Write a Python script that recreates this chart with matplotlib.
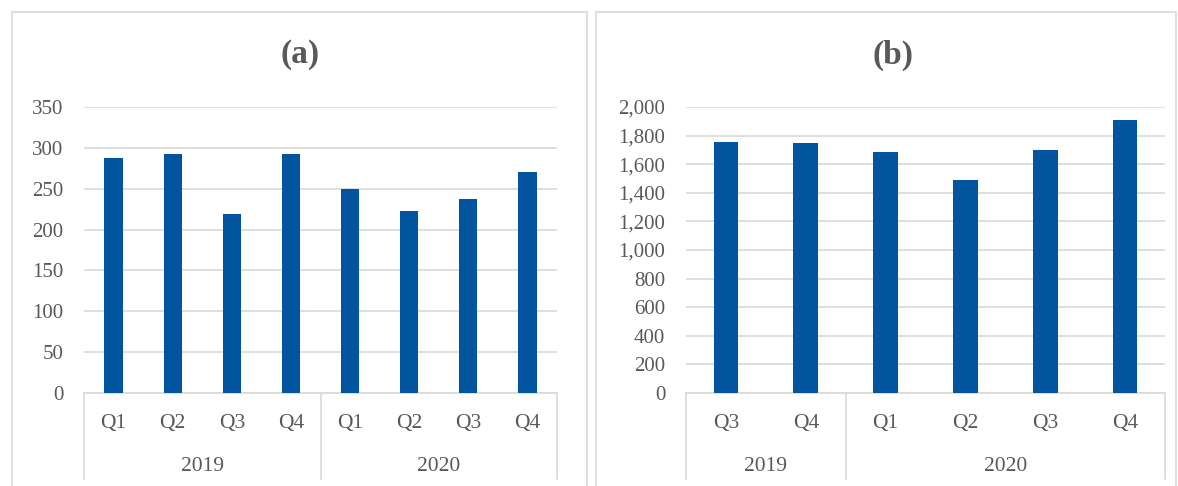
import numpy as np
import matplotlib
matplotlib.use("Agg")
import matplotlib.pyplot as plt
from matplotlib.patches import Rectangle
from matplotlib.ticker import MultipleLocator, StrMethodFormatter

plt.rcParams["font.family"] = ["Liberation Serif", "DejaVu Serif"]

# data
quarters_a = ["Q1", "Q2", "Q3", "Q4", "Q1", "Q2", "Q3", "Q4"]
years_a = ["2019", "2020"]
year_spans_a = [4, 4]
values_a = [288, 293, 219, 292, 250, 223, 238, 270]

quarters_b = ["Q3", "Q4", "Q1", "Q2", "Q3", "Q4"]
years_b = ["2019", "2020"]
year_spans_b = [2, 4]
values_b = [1757, 1750, 1685, 1491, 1701, 1911]

BAR = "#00559E"
GRID = "#D9D9D9"
TXT = "#595959"

W, H = 1178, 486
fig = plt.figure(figsize=(W / 100, H / 100), dpi=100)


def px_box(x0, x1, ytop, ybot):
    return [x0 / W, 1 - ybot / H, (x1 - x0) / W, (ybot - ytop) / H]


# chart-area frames
for x0, x1 in [(12, 587), (596, 1176)]:
    fig.patches.append(Rectangle((x0 / W, -0.02), (x1 - x0) / W, 1 - 12 / H + 0.02,
                                 transform=fig.transFigure, fill=False,
                                 edgecolor=GRID, lw=1.2))


def panel(box, quarters, years, spans, values, ymax, step, title, title_x, fmt):
    ax = fig.add_axes(box)
    x = np.arange(len(values))
    ax.bar(x, values, width=0.31, color=BAR, zorder=3)
    ax.set_xlim(-0.5, len(values) - 0.5)
    ax.set_ylim(0, ymax)
    ax.yaxis.set_major_locator(MultipleLocator(step))
    ax.yaxis.set_major_formatter(StrMethodFormatter(fmt))
    ax.grid(axis="y", color=GRID, lw=1.2, zorder=0)
    for s in ["top", "right", "left"]:
        ax.spines[s].set_visible(False)
    ax.spines["bottom"].set_color(GRID)
    ax.spines["bottom"].set_linewidth(1.2)
    ax.tick_params(axis="y", length=0, pad=15, labelsize=15, labelcolor=TXT)
    ax.set_xticks([])

    # two-level category axis (quarter / year)
    trans = ax.get_xaxis_transform()
    for xi, q in zip(x, quarters):
        ax.text(xi, -0.122, q, transform=trans, ha="center", va="baseline",
                fontsize=15.5, color=TXT)
    edges = np.concatenate([[0], np.cumsum(spans)]) - 0.5
    for e in edges:
        ax.plot([e, e], [0, -0.30], transform=trans, color=GRID, lw=1.2,
                clip_on=False)
    for yr, a, b in zip(years, edges[:-1], edges[1:]):
        ax.text((a + b) / 2, -0.273, yr, transform=trans, ha="center",
                va="baseline", fontsize=15.5, color=TXT)

    fig.text(title_x / W, 1 - 55 / H, title, ha="center", va="center",
             fontsize=24, fontweight="bold", color=TXT)
    return ax


panel(px_box(84, 557, 107, 393), quarters_a, years_a, year_spans_a, values_a,
      350, 50, "(a)", 300, "{x:,.0f}")
panel(px_box(686, 1165, 107, 393), quarters_b, years_b, year_spans_b, values_b,
      2000, 200, "(b)", 893, "{x:,.0f}")

fig.savefig("out.png", dpi=100)
